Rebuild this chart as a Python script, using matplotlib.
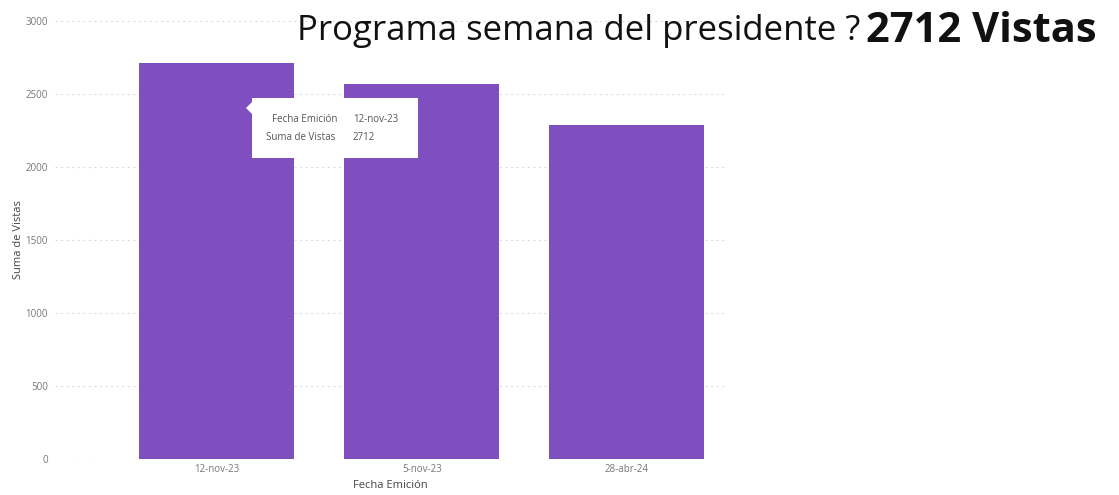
import matplotlib.pyplot as plt
from matplotlib.patches import FancyBboxPatch, Polygon

fechas = ["12-nov-23", "5-nov-23", "28-abr-24"]
vistas = [2712, 2570, 2290]
yticks = [0, 500, 1000, 1500, 2000, 2500, 3000]

plt.rcParams['font.family'] = ['Open Sans', 'DejaVu Sans']

W, H = 1119, 495
fig = plt.figure(figsize=(W / 100, H / 100), dpi=100)
ax = fig.add_axes([55 / W, 1 - 459 / H, 670 / W, 438 / H])

ax.bar(range(len(fechas)), vistas, width=0.756, color="#7f4fc0", zorder=3)
ax.set_xlim(-0.79, 2.48)
ax.set_ylim(0, 3000)
ax.set_yticks(yticks)
ax.set_xticks(range(len(fechas)))
ax.set_xticklabels(fechas)
ax.tick_params(axis='both', length=0, labelsize=7, labelcolor="#777777")
ax.tick_params(axis='y', pad=5)
ax.grid(axis='y', linestyle=(0, (2, 3)), color="#dddddd", linewidth=0.8, zorder=0)
for s in ax.spines.values():
    s.set_visible(False)
ax.set_xlabel("Fecha Emición", fontsize=8, color="#444444", labelpad=4)
ax.set_ylabel("Suma de Vistas", fontsize=8, color="#444444")
ax.yaxis.set_label_coords(-0.046, 0.5)

# title
fig.text(860 / W, 1 - 31 / H, "Programa semana del presidente ?", ha='right', va='center',
         fontsize=25, color="#111111")
fig.text(866 / W, 1 - 31 / H, "%d Vistas" % vistas[0], ha='left', va='center',
         fontsize=30, fontweight='bold', color="#111111")

# tooltip
box = FancyBboxPatch((252 / W, 1 - 158 / H), 166 / W, 60 / H, boxstyle="square,pad=0",
                     transform=fig.transFigure, facecolor="white", edgecolor="none", zorder=5)
fig.add_artist(box)
tri = Polygon([(252 / W, 1 - 102 / H), (246 / W, 1 - 108 / H), (252 / W, 1 - 114 / H)],
              closed=True, transform=fig.transFigure, facecolor="white", edgecolor="none", zorder=5)
fig.add_artist(tri)
fig.text(272 / W, 1 - 120 / H, "Fecha Emición", fontsize=7, color="#555555", va='center', zorder=6)
fig.text(353 / W, 1 - 120 / H, fechas[0], fontsize=7, color="#555555", va='center', zorder=6)
fig.text(266 / W, 1 - 137 / H, "Suma de Vistas", fontsize=7, color="#555555", va='center', zorder=6)
fig.text(353 / W, 1 - 137 / H, str(vistas[0]), fontsize=7, color="#555555", va='center', zorder=6)

plt.savefig('out.png', dpi=100)
